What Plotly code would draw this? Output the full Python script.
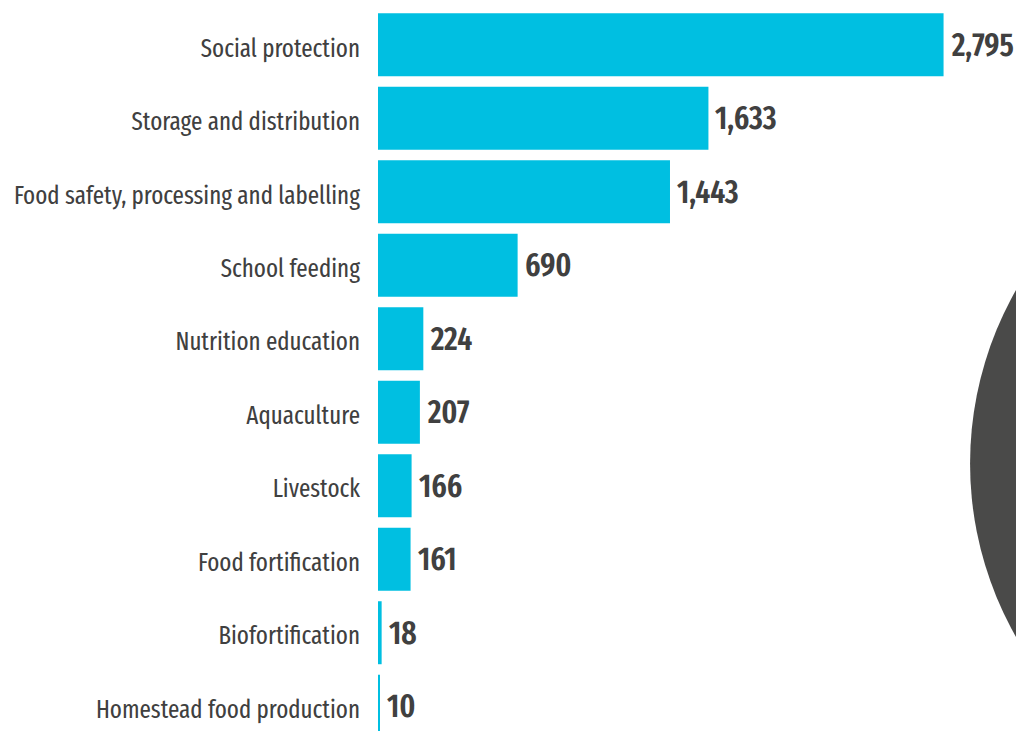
import plotly.graph_objects as go

categories = [
    "Social protection",
    "Storage and distribution",
    "Food safety, processing and labelling",
    "School feeding",
    "Nutrition education",
    "Aquaculture",
    "Livestock",
    "Food fortification",
    "Biofortification",
    "Homestead food production",
]
values = [2795, 1633, 1443, 690, 224, 207, 166, 161, 18, 10]
value_labels = [f"{v:,}" for v in values]

FONT = "Fira Sans Extra Condensed, Fira Sans Condensed, Liberation Sans Narrow, Roboto, Arial"
BAR = "#00BFE1"
TXT = "#404040"

fig = go.Figure(
    go.Bar(
        x=values,
        y=categories,
        orientation="h",
        marker=dict(color=BAR, line=dict(width=0)),
        hoverinfo="skip",
        cliponaxis=False,
    )
)

for c, v, t in zip(categories, values, value_labels):
    fig.add_annotation(
        x=v, y=c, text=t, showarrow=False,
        xanchor="left", yanchor="middle", xshift=5, yshift=0,
        font=dict(family=FONT, size=32, color=TXT, weight=600),
    )

# decorative dark circle at right edge
fig.add_shape(
    type="circle", xref="paper", yref="paper",
    x0=0.928, x1=2.024, y0=-0.114, y1=0.854,
    fillcolor="#4A4A49", line=dict(width=0), layer="below",
)

fig.update_layout(
    width=1016, height=731,
    margin=dict(l=378, r=0, t=8, b=0, autoexpand=False),
    paper_bgcolor="white", plot_bgcolor="white",
    bargap=0.143,
    showlegend=False,
    xaxis=dict(range=[0, 3153], visible=False, fixedrange=True, automargin=False),
    yaxis=dict(
        range=[9.337, -0.5], showgrid=False, zeroline=False, showline=False,
        ticks="", ticklabelstandoff=17, ticklabelshift=-3, automargin=False,
        tickfont=dict(family=FONT, size=25, color=TXT),
    ),
)

fig.write_html("out.html")
